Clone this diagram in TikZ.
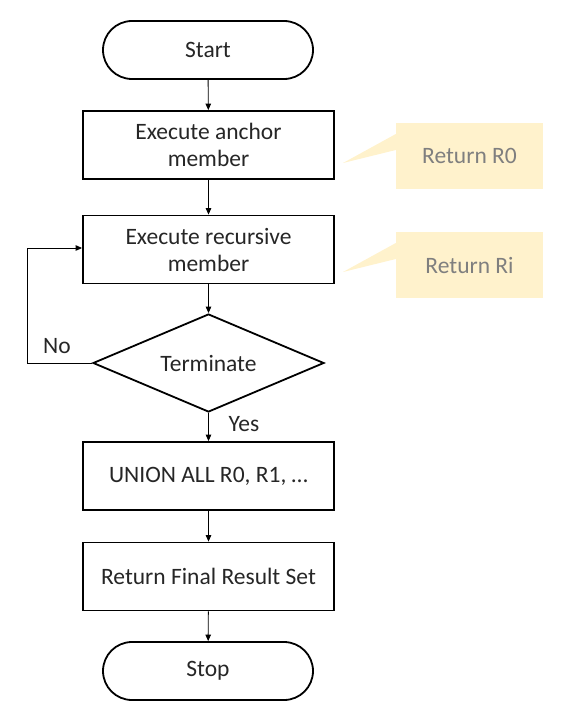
\documentclass[tikz,border=0pt]{standalone}
\usepackage{fontspec}
\setmainfont{Carlito}
\usetikzlibrary{shapes.geometric,shapes.misc,arrows.meta}
\definecolor{callfill}{HTML}{FFF2CC}
\definecolor{calltext}{HTML}{7F7F7F}
\begin{document}
\begin{tikzpicture}[x=1pt,y=-1pt,
  every node/.style={font=\fontsize{23.5}{27}\selectfont, text=black!85},
  term/.style={draw, line width=1.8pt, rounded rectangle, minimum width=210pt, minimum height=58pt, inner sep=0pt},
  proc/.style={draw, line width=1.8pt, rectangle, minimum width=251pt, minimum height=68pt, align=center, inner sep=0pt},
  decis/.style={draw, line width=1.8pt, diamond, minimum width=231pt, minimum height=98pt, inner sep=0pt},
  callbox/.style={fill=callfill, rectangle, minimum width=147pt, minimum height=66pt, inner sep=0pt, text=calltext},
  conn/.style={line width=0.9pt, -{Triangle[length=6.5pt,width=5.5pt]}},
  lbl/.style={inner sep=0pt}
]
\useasboundingbox (0,0) rectangle (560,717);
\node[term] (start) at (208,50) {Start};
\node[proc] (anchor) at (208.5,145) {Execute anchor\\member};
\node[proc] (recur) at (208.5,249.5) {Execute recursive\\member};
\node[decis] (term) at (208.5,363) {};
\node[lbl] (termtext) at (term.center) {Terminate};
\node[proc] (union) at (208.5,476) {UNION ALL R0, R1, …};
\node[proc] (final) at (208.5,576.5) {Return Final Result Set};
\node[term] (stop) at (208,671) {Stop};

\node[callbox] (c1) at (469.5,156) {Return R0};
\node[callbox] (c2) at (469.5,265) {Return Ri};
\coordinate (t1) at (343,163);
\coordinate (t2) at (343,272);
\fill[callfill] (t1) -- ([yshift=6pt]c1.west) -- ([yshift=22pt]c1.west) -- cycle;
\fill[callfill] (t2) -- ([yshift=6pt]c2.west) -- ([yshift=22pt]c2.west) -- cycle;

\draw[conn] (start) -- (anchor);
\draw[conn] (anchor) -- (recur);
\draw[conn] (recur) -- (term);
\draw[conn] (term) -- (union);
\draw[conn] (union) -- (final);
\draw[conn] (final) -- (stop);
\coordinate (loopx) at (27,363);
\draw[conn] (term.west) -- (loopx) |- ([yshift=1.5pt]recur.west);
\node[lbl] (no) at (57,346) {No};
\node[lbl] (yes) at (244,424) {Yes};
\end{tikzpicture}
\end{document}
